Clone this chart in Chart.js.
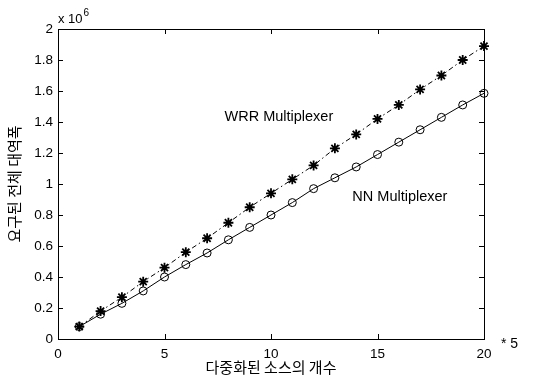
<!DOCTYPE html>
<html>
<head>
<meta charset="utf-8">
<script src="https://cdn.jsdelivr.net/npm/chart.js@4.4.1/dist/chart.umd.min.js"></script>
<style>
  html, body { margin: 0; padding: 0; background: #fff; }
</style>
</head>
<body>
<canvas id="bwChart" width="533" height="377"></canvas>
<script>
// 다중화된 소스의 개수 (x) / 요구된 전체 대역폭 (y, x 10^6)
const sources = [1, 2, 3, 4, 5, 6, 7, 8, 9, 10, 11, 12, 13, 14, 15, 16, 17, 18, 19, 20];
const wrrBandwidth = [0.08, 0.18, 0.27, 0.37, 0.46, 0.56, 0.65, 0.75, 0.85, 0.94,
                      1.03, 1.12, 1.23, 1.32, 1.42, 1.51, 1.61, 1.70, 1.80, 1.89];
const nnBandwidth = [0.08, 0.16, 0.23, 0.31, 0.40, 0.48, 0.555, 0.64, 0.72, 0.80,
                     0.88, 0.97, 1.04, 1.11, 1.19, 1.27, 1.35, 1.43, 1.51, 1.585];
const xTicks = [0, 5, 10, 15, 20];
const yTicks = [0, 0.2, 0.4, 0.6, 0.8, 1, 1.2, 1.4, 1.6, 1.8, 2];
const yTickLabels = ['0', '0.2', '0.4', '0.6', '0.8', '1', '1.2', '1.4', '1.6', '1.8', '2'];

const FONT = '"Liberation Sans", Arial, "Noto Sans CJK KR", sans-serif';
const KFONT = '"Noto Sans CJK KR", "Liberation Sans", sans-serif';

const toPoints = (ys) => sources.map((x, i) => ({ x: x, y: ys[i] }));

// 테두리, 안쪽 눈금, 주석 텍스트
const framePlugin = {
  id: 'frame',
  afterDraw(chart) {
    const { ctx, chartArea: a, scales } = chart;
    const xs = scales.x, ys = scales.y;
    const tick = 5;
    ctx.save();
    ctx.strokeStyle = '#000';
    ctx.lineWidth = 1;
    ctx.strokeRect(a.left + 0.5, a.top + 0.5, a.right - a.left, a.bottom - a.top);
    ctx.beginPath();
    xTicks.forEach(v => {
      const px = Math.round(xs.getPixelForValue(v)) + 0.5;
      ctx.moveTo(px, a.bottom); ctx.lineTo(px, a.bottom - tick);
      ctx.moveTo(px, a.top); ctx.lineTo(px, a.top + tick);
    });
    yTicks.forEach(v => {
      const py = Math.round(ys.getPixelForValue(v)) + 0.5;
      ctx.moveTo(a.left, py); ctx.lineTo(a.left + tick, py);
      ctx.moveTo(a.right, py); ctx.lineTo(a.right - tick, py);
    });
    ctx.stroke();

    ctx.fillStyle = '#000';
    ctx.textBaseline = 'alphabetic';
    ctx.textAlign = 'left';
    // 지수 표시
    ctx.font = '13px ' + FONT;
    const base = 'x 10';
    ctx.fillText(base, a.left, a.top - 6);
    const w = ctx.measureText(base).width;
    ctx.font = '10px ' + FONT;
    ctx.fillText('6', a.left + w + 1, a.top - 13);
    // x축 단위
    ctx.font = '14px ' + FONT;
    ctx.fillText('* 5', a.right + 17, a.bottom + 9);

    // 곡선 이름
    ctx.font = '14.5px ' + FONT;
    ctx.textAlign = 'center';
    ctx.textBaseline = 'middle';
    ctx.fillText('WRR Multiplexer', xs.getPixelForValue(10.37), ys.getPixelForValue(1.43));
    ctx.fillText('NN Multiplexer', xs.getPixelForValue(16.05), ys.getPixelForValue(0.917));
    ctx.restore();
  }
};

new Chart(document.getElementById('bwChart'), {
  type: 'line',
  data: {
    datasets: [
      {
        label: 'WRR Multiplexer',
        data: toPoints(wrrBandwidth),
        borderColor: '#000',
        backgroundColor: '#000',
        borderWidth: 1,
        borderDash: [5, 3, 1.5, 3],
        pointStyle: 'star',
        pointRadius: 5,
        pointBorderWidth: 1.8,
        pointBorderColor: '#000',
        tension: 0,
        clip: false
      },
      {
        label: 'NN Multiplexer',
        data: toPoints(nnBandwidth),
        borderColor: '#000',
        backgroundColor: '#fff',
        borderWidth: 1,
        pointStyle: 'circle',
        pointRadius: 4,
        pointBorderWidth: 1,
        pointBorderColor: '#000',
        pointBackgroundColor: 'rgba(255,255,255,0)',
        tension: 0,
        clip: false
      }
    ]
  },
  options: {
    responsive: false,
    animation: false,
    events: [],
    layout: { padding: { left: 0, top: 29, right: 49, bottom: 0 } },
    scales: {
      x: {
        type: 'linear',
        min: 0,
        max: 20,
        afterFit: (scale) => { scale.height = 38; },
        afterBuildTicks: (scale) => { scale.ticks = xTicks.map(v => ({ value: v })); },
        grid: { display: false, drawTicks: false },
        border: { display: false },
        ticks: { color: '#000', padding: 7, font: { family: FONT, size: 13.5 } },
        title: {
          display: true,
          text: '다중화된 소스의 개수',
          color: '#000',
          padding: { top: 0, bottom: 1 },
          font: { family: KFONT, size: 15 }
        }
      },
      y: {
        type: 'linear',
        min: 0,
        max: 2,
        afterFit: (scale) => { scale.width = 58; },
        afterBuildTicks: (scale) => { scale.ticks = yTicks.map(v => ({ value: v })); },
        grid: { display: false, drawTicks: false },
        border: { display: false },
        ticks: {
          color: '#000',
          padding: 5,
          font: { family: FONT, size: 13.5 },
          callback: (value, i) => yTickLabels[i]
        },
        title: {
          display: true,
          text: '요구된 전체 대역폭',
          color: '#000',
          padding: { top: 5, bottom: 0 },
          font: { family: KFONT, size: 15 }
        }
      }
    },
    plugins: {
      legend: { display: false },
      tooltip: { enabled: false }
    }
  },
  plugins: [framePlugin]
});
</script>
</body>
</html>
